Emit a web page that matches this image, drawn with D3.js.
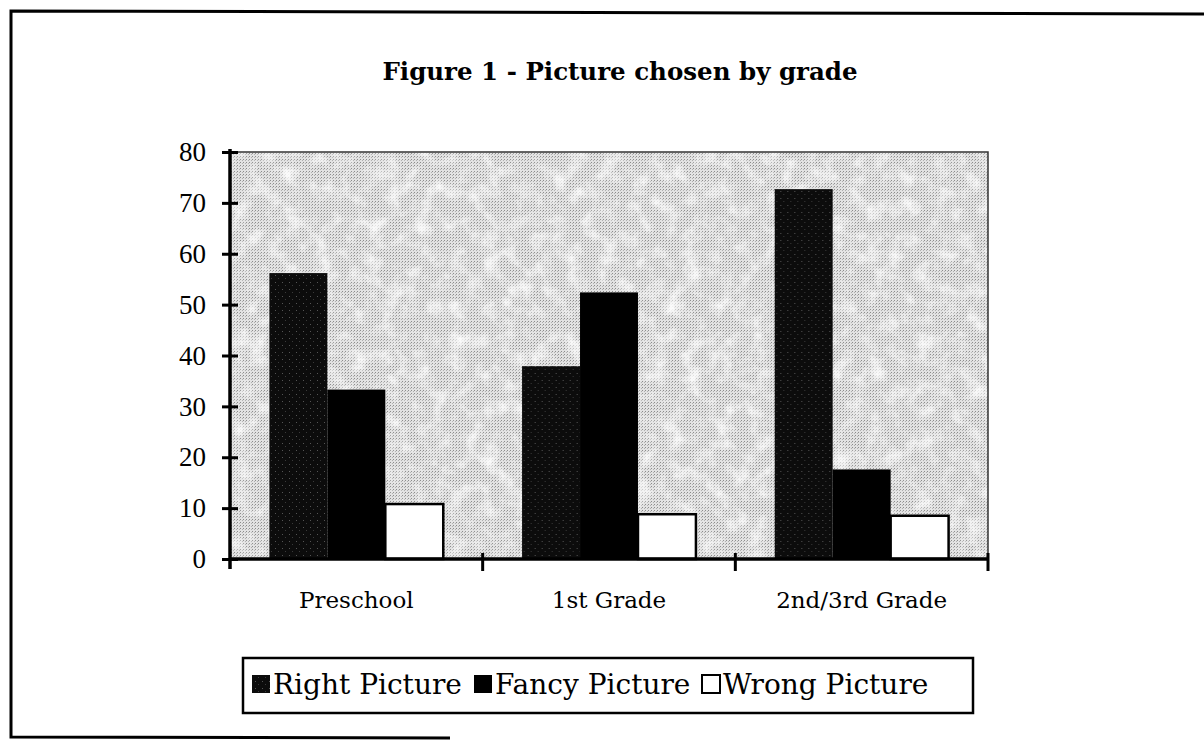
<!DOCTYPE html>
<html lang="en-US">
<head>
<meta charset="utf-8">
<style>
  body { margin: 0; background: #fff; }
  svg { display: block; }
  text { font-family: "DejaVu Serif", serif; fill: #000; }
</style>
</head>
<body>
<div id="chart"></div>
<script src="https://cdnjs.cloudflare.com/ajax/libs/d3/7.8.5/d3.min.js"></script>
<script>
// data
var categories = ['Preschool', '1st Grade', '2nd/3rd Grade'];
var seriesNames = ['Right Picture', 'Fancy Picture', 'Wrong Picture'];
var rightPicture = [56.2, 37.9, 72.7];
var fancyPicture = [33.3, 52.4, 17.6];
var wrongPicture = [10.8, 8.8, 8.5];
var yTicks = [0, 10, 20, 30, 40, 50, 60, 70, 80];

var WIDTH = 1204, HEIGHT = 753;
var seriesValues = [rightPicture, fancyPicture, wrongPicture];

var svg = d3.select('#chart').append('svg')
  .attr('width', WIDTH).attr('height', HEIGHT);

var defs = svg.append('defs');

// halftone-ish dots for the plot background
var dots = defs.append('pattern').attr('id', 'dots')
  .attr('width', 3).attr('height', 3).attr('patternUnits', 'userSpaceOnUse');
dots.append('rect').attr('width', 3).attr('height', 3).attr('fill', '#e2e2e2');
dots.append('rect').attr('x', 0).attr('y', 0).attr('width', 1).attr('height', 1).attr('fill', '#8c8c8c');
dots.append('rect').attr('x', 2).attr('y', 1).attr('width', 1).attr('height', 1).attr('fill', '#b0b0b0');

// soft lighter patches on top of the dots
var mottle = defs.append('filter').attr('id', 'mottle')
  .attr('x', 0).attr('y', 0).attr('width', 1).attr('height', 1);
mottle.append('feTurbulence').attr('type', 'fractalNoise')
  .attr('baseFrequency', '0.06').attr('numOctaves', 3).attr('seed', 7);
mottle.append('feColorMatrix').attr('type', 'matrix')
  .attr('values', '0 0 0 0 1  0 0 0 0 1  0 0 0 0 1  2.0 0 0 0 -0.9');
mottle.append('feComposite').attr('in2', 'SourceGraphic').attr('operator', 'in');

// dark speckled fill for "Right Picture"
var dark = defs.append('pattern').attr('id', 'darkfill')
  .attr('width', 7).attr('height', 7).attr('patternUnits', 'userSpaceOnUse');
dark.append('rect').attr('width', 7).attr('height', 7).attr('fill', '#0c0c0c');
dark.append('rect').attr('x', 3).attr('y', 2).attr('width', 1).attr('height', 1).attr('fill', '#555');
dark.append('rect').attr('x', 6).attr('y', 5).attr('width', 1).attr('height', 1).attr('fill', '#3a3a3a');

var fills = ['url(#darkfill)', '#000', '#fff'];

// outer frame (left, top, part of bottom)
var frame = svg.append('g').attr('stroke', '#000').attr('stroke-width', 3).attr('fill', 'none');
frame.append('path').attr('d', 'M1204,14 L11,11 L11,737 L450,738');

// title
svg.append('text')
  .attr('x', 620).attr('y', 80)
  .attr('text-anchor', 'middle')
  .style('font-size', '24.5px').style('font-weight', 'bold')
  .text('Figure 1 - Picture chosen by grade');

// scales
var x0 = d3.scaleBand().domain(categories).range([230, 988]);
var x1 = d3.scaleBand().domain(seriesNames).range([0, x0.bandwidth()]).paddingOuter(0.68);
var y = d3.scaleLinear().domain([0, 80]).range([559, 152]);

// plot background
svg.append('rect')
  .attr('x', x0.range()[0]).attr('y', y(80))
  .attr('width', x0.range()[1] - x0.range()[0]).attr('height', y(0) - y(80))
  .attr('fill', 'url(#dots)');
svg.append('rect')
  .attr('x', x0.range()[0]).attr('y', y(80))
  .attr('width', x0.range()[1] - x0.range()[0]).attr('height', y(0) - y(80))
  .attr('fill', '#fff').attr('filter', 'url(#mottle)');
svg.append('path')
  .attr('d', 'M' + x0.range()[0] + ',' + y(80) + ' H' + x0.range()[1] + ' V' + y(0))
  .attr('fill', 'none').attr('stroke', '#333').attr('stroke-width', 1.5);

// bars
var groups = svg.append('g').selectAll('g')
  .data(categories)
  .join('g')
  .attr('transform', function (c) { return 'translate(' + x0(c) + ',0)'; });

groups.selectAll('rect')
  .data(function (c, ci) {
    return seriesNames.map(function (s, si) { return { s: s, i: si, v: seriesValues[si][ci] }; });
  })
  .join('rect')
  .attr('x', function (d) { return x1(d.s); })
  .attr('width', x1.bandwidth())
  .attr('y', function (d) { return y(d.v); })
  .attr('height', function (d) { return y(0) - y(d.v); })
  .attr('fill', function (d) { return fills[d.i]; })
  .attr('stroke', function (d) { return d.i === 2 ? '#000' : 'none'; })
  .attr('stroke-width', 2.5);

// y axis
var yAxis = svg.append('g')
  .attr('transform', 'translate(230,0)')
  .call(d3.axisLeft(y).tickValues(yTicks).tickSize(8).tickPadding(16));
yAxis.select('.domain').attr('stroke-width', 3.5).attr('d', 'M0,' + (y(80) - 3) + 'V' + (y(0) + 10));
yAxis.selectAll('.tick line').attr('x1', -8).attr('x2', 8).attr('stroke-width', 3);
yAxis.selectAll('.tick text')
  .style('font-family', '"Liberation Serif", serif').style('font-size', '27px');

// x axis
var xAxis = svg.append('g')
  .attr('transform', 'translate(0,' + y(0) + ')')
  .call(d3.axisBottom(x0).tickSize(0).tickPadding(33));
xAxis.select('.domain').attr('stroke-width', 3.5).attr('d', 'M' + x0.range()[0] + ',0H' + x0.range()[1]);
xAxis.selectAll('.tick text')
  .style('font-family', '"DejaVu Serif", serif').style('font-size', '23px');
// tick marks on the category boundaries
var bounds = categories.map(function (c) { return x0(c) + x0.bandwidth(); });
xAxis.selectAll('line.bound')
  .data(bounds)
  .join('line')
  .attr('class', 'bound')
  .attr('x1', function (d) { return d; }).attr('x2', function (d) { return d; })
  .attr('y1', -6).attr('y2', 12)
  .attr('stroke', '#000').attr('stroke-width', 3);

// legend
var legend = svg.append('g');
legend.append('rect')
  .attr('x', 243).attr('y', 658).attr('width', 730).attr('height', 55)
  .attr('fill', '#fff').attr('stroke', '#000').attr('stroke-width', 2.5);

var legendX = [252, 474, 702];
var items = legend.selectAll('g.item')
  .data(seriesNames)
  .join('g')
  .attr('class', 'item')
  .attr('transform', function (d, i) { return 'translate(' + legendX[i] + ',0)'; });
items.append('rect')
  .attr('x', 0).attr('y', 675).attr('width', 18).attr('height', 18)
  .attr('fill', function (d, i) { return fills[i]; })
  .attr('stroke', '#000').attr('stroke-width', function (d, i) { return i === 2 ? 2 : 0; });
items.append('text')
  .attr('x', 21).attr('y', 694)
  .style('font-size', '28px')
  .text(function (d) { return d; });
</script>
</body>
</html>
